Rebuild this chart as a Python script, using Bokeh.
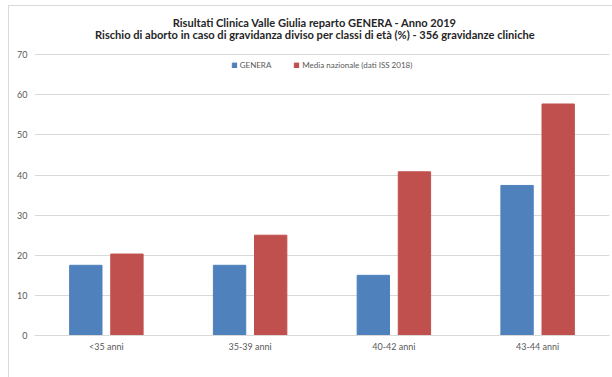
from bokeh.plotting import figure
from bokeh.models import ColumnDataSource, Range1d, FixedTicker, Label, Legend, LegendItem
from bokeh.transform import dodge
from bokeh.embed import file_html
from bokeh.resources import INLINE

categories = ["<35 anni", "35-39 anni", "40-42 anni", "43-44 anni"]
genera = [17.5, 17.5, 15.0, 37.4]
media_nazionale = [20.3, 25.0, 40.8, 57.7]
series_names = ["GENERA", "Media nazionale (dati ISS 2018)"]
y_ticks = [0, 10, 20, 30, 40, 50, 60, 70]
title_lines = [
    "Risultati Clinica Valle Giulia reparto GENERA - Anno 2019",
    "Rischio di aborto in caso di gravidanza diviso per classi di età (%) - 356 gravidanze cliniche",
]

BLUE = "#4f81bd"
RED = "#c0504d"
GRID = "#d9d9d9"
TXT = "#595959"
FONT = "Lato"

source = ColumnDataSource(data=dict(cat=categories, genera=genera, media=media_nazionale))

# frame extends to the top of the chart area; the value axis stops at 70
p = figure(
    x_range=categories,
    y_range=Range1d(0, 82),
    width=604,
    height=372,
    output_backend="svg",
    toolbar_location=None,
    min_border_left=25,
    min_border_right=4,
    min_border_top=0,
    min_border_bottom=43,
)
p.margin = (5, 0, 0, 8)
p.styles = {"border-top": "1px solid #d9d9d9", "border-left": "1px solid #d9d9d9"}
p.outline_line_color = None

r1 = p.vbar(x=dodge("cat", -0.143, range=p.x_range), top="genera", width=0.225,
            source=source, fill_color=BLUE, line_color=BLUE)
r2 = p.vbar(x=dodge("cat", 0.143, range=p.x_range), top="media", width=0.225,
            source=source, fill_color=RED, line_color=RED)

p.x_range.range_padding = 0
p.yaxis.ticker = FixedTicker(ticks=y_ticks)
p.yaxis.axis_line_color = None
p.yaxis.major_tick_line_color = None
p.yaxis.major_tick_out = 0
p.yaxis.minor_tick_line_color = None
p.yaxis.major_label_text_font = FONT
p.yaxis.major_label_text_font_size = "9px"
p.yaxis.major_label_text_color = TXT
p.yaxis.major_label_standoff = 7

p.xaxis.axis_line_color = GRID
p.xaxis.major_tick_line_color = None
p.xaxis.major_tick_out = 0
p.xaxis.minor_tick_line_color = None
p.xaxis.major_label_text_font = FONT
p.xaxis.major_label_text_font_size = "9px"
p.xaxis.major_label_text_color = TXT
p.xaxis.major_label_standoff = 5

p.xgrid.grid_line_color = None
p.ygrid.grid_line_color = GRID
p.ygrid.ticker = FixedTicker(ticks=y_ticks)

legend = Legend(
    items=[LegendItem(label=series_names[0], renderers=[r1]),
           LegendItem(label=series_names[1], renderers=[r2])],
    orientation="horizontal",
    location="top_center",
    border_line_color=None,
    background_fill_alpha=0,
    label_text_font=FONT,
    label_text_font_size="8px",
    label_text_color=TXT,
    glyph_width=6,
    glyph_height=6,
    label_standoff=3,
    spacing=22,
    padding=4,
    margin=54,
)
p.add_layout(legend)

for text, ypos in zip(title_lines, [78.1, 75.0]):
    p.add_layout(Label(text=text, x=1.951, y=ypos,
                       text_align="center", text_baseline="middle", text_font=FONT,
                       text_font_size="11.1px", text_font_style="bold", text_color="#262626"))

open("out.html", "w").write(file_html(p, INLINE))
